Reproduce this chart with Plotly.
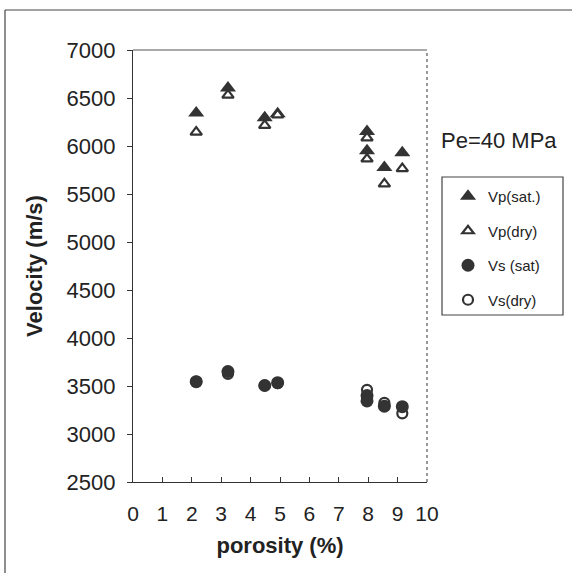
import plotly.graph_objects as go

# porosity (%) for each sample
por_vp = [2.15, 3.23, 4.48, 4.92, 7.96, 7.96, 8.55, 9.16]
vp_sat = [6345, 6605, 6295, 6335, 6150, 5950, 5775, 5930]
vp_dry = [6145, 6530, 6215, 6325, 6085, 5865, 5605, 5765]
por_vs = [2.15, 3.23, 4.48, 4.92, 7.96, 7.96, 8.55, 9.16]
vs_sat = [3545, 3650, 3505, 3535, 3400, 3345, 3290, 3285]
vs_dry = [3545, 3625, 3505, 3530, 3460, 3370, 3325, 3215]

x_ticks = list(range(0, 11))
y_ticks = list(range(2500, 7001, 500))

MK = "#333333"
FONT = "Liberation Sans, Arial, sans-serif"

fig = go.Figure()
fig.add_trace(go.Scatter(x=por_vp, y=vp_sat, mode="markers", name="Vp(sat.)",
                         legendgroup="a", legendrank=1,
                         marker=dict(symbol="triangle-up", size=14, color=MK,
                                     line=dict(width=0))))
fig.add_trace(go.Scatter(x=por_vp, y=vp_dry, mode="markers", name="Vp(dry)",
                         legendgroup="b", legendrank=2,
                         marker=dict(symbol="triangle-up", size=10, color="white",
                                     line=dict(width=2.2, color=MK))))
fig.add_trace(go.Scatter(x=por_vs, y=vs_dry, mode="markers", name="Vs(dry)",
                         legendgroup="d", legendrank=4,
                         marker=dict(symbol="circle", size=10, color="white",
                                     line=dict(width=2.2, color=MK))))
fig.add_trace(go.Scatter(x=por_vs, y=vs_sat, mode="markers", name="Vs (sat)",
                         legendgroup="c", legendrank=3,
                         marker=dict(symbol="circle", size=13, color=MK,
                                     line=dict(width=0))))

W, H = 577, 573
L, R, T, B = 133, 150, 50, 91
pw, ph = W - L - R, H - T - B

def px(xp):
    return (xp - L) / pw

def py(yp):
    return (H - B - yp) / ph

shapes = [
    # plot frame top and right
    dict(type="line", xref="paper", yref="paper", x0=0, x1=1, y0=1, y1=1,
         line=dict(color="#555555", width=1.2)),
    dict(type="line", xref="paper", yref="paper", x0=1, x1=1, y0=0, y1=1,
         line=dict(color="#555555", width=1.2, dash="dot")),
    # legend box
    dict(type="rect", xref="paper", yref="paper", x0=px(442), x1=px(563),
         y0=py(315), y1=py(177), line=dict(color="#444444", width=1.2)),
    # outer frame
    dict(type="line", xref="paper", yref="paper", x0=px(5), x1=px(572),
         y0=py(10), y1=py(10), line=dict(color="#444444", width=1.2)),
    dict(type="line", xref="paper", yref="paper", x0=px(5), x1=px(5),
         y0=py(10), y1=py(573), line=dict(color="#444444", width=1.2)),
]

fig.update_layout(
    width=W, height=H,
    margin=dict(l=L, r=R, t=T, b=B, autoexpand=False),
    paper_bgcolor="white", plot_bgcolor="white",
    font=dict(family=FONT, color="#222222"),
    showlegend=True,
    legend=dict(x=px(448), y=py(180), xanchor="left", yanchor="top",
                bgcolor="rgba(0,0,0,0)", borderwidth=0,
                font=dict(size=15, family=FONT, color="#222222"),
                tracegroupgap=12, itemwidth=30),
    shapes=shapes,
    annotations=[dict(text="Pe=40 MPa", x=px(499), y=py(140), xref="paper",
                      yref="paper", showarrow=False, xanchor="center",
                      yanchor="middle",
                      font=dict(size=22, family=FONT, color="#222222"))],
)
fig.update_xaxes(range=[0, 10], tickvals=x_ticks, ticktext=[str(v) for v in x_ticks],
                 ticks="inside", ticklen=5, tickcolor="#333333",
                 showline=True, linecolor="#333333", linewidth=1.3,
                 showgrid=False, zeroline=False, ticklabelstandoff=13,
                 tickfont=dict(size=21, family=FONT, color="#222222"),
                 title=dict(text="<b>porosity (%)</b>", standoff=13,
                            font=dict(size=22, family=FONT, color="#222222")))
fig.update_yaxes(range=[2500, 7000], tickvals=y_ticks, ticktext=[str(v) for v in y_ticks],
                 ticks="outside", ticklen=5, tickcolor="#333333",
                 showline=True, linecolor="#333333", linewidth=1.3,
                 showgrid=False, zeroline=False, ticklabelstandoff=7,
                 tickfont=dict(size=22, family=FONT, color="#222222"),
                 title=dict(text="<b>Velocity (m/s)</b>", standoff=17,
                            font=dict(size=22, family=FONT, color="#222222")))

fig.write_html("out.html", config={"displayModeBar": False},
               post_script="document.body.style.margin='0px';")
